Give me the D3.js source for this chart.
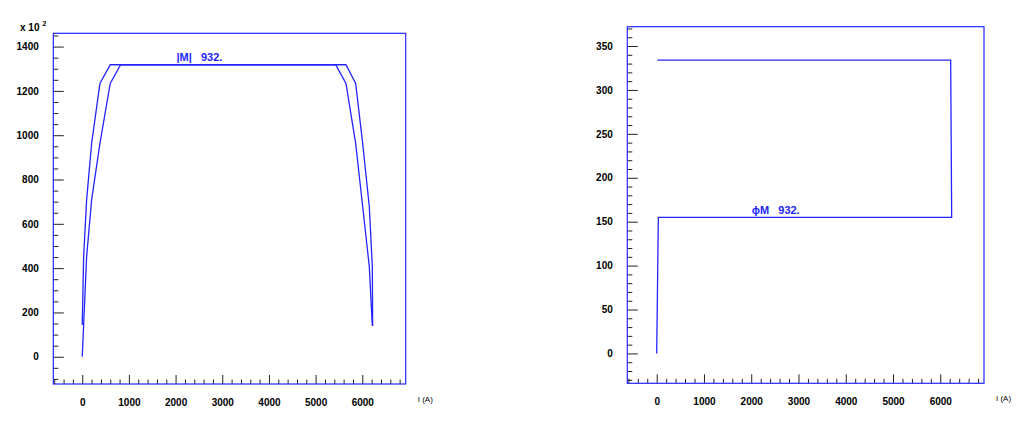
<!DOCTYPE html>
<html>
<head>
<meta charset="utf-8">
<script src="https://cdn.jsdelivr.net/npm/d3@7/dist/d3.min.js"></script>
<style>
body { margin: 0; background: #fff; }
text { font-family: "Liberation Sans", Arial, sans-serif; }
</style>
</head>
<body>
<svg id="chart" width="1025" height="425"></svg>
<script>
// |M| (x 10^2) versus current I (A), two traces
const magOuterI = [0, 30, 94, 201, 379, 600, 5650, 5858, 6008, 6150, 6215, 6222];
const magOuterM = [143, 452, 708, 963, 1234, 1318, 1318, 1234, 963, 678, 407, 139];
const magInnerI = [0, 30, 94, 201, 379, 600, 822, 5430, 5650, 5858, 6008, 6150, 6215];
const magInnerM = [0, 143, 452, 708, 963, 1234, 1318, 1318, 1234, 963, 678, 407, 139];

// phase of M versus current I (A)
const phaseI = [0, 35, 6241, 6220, 13];
const phaseM = [0, 155, 155, 334, 334];

const magLabel = '|M|   932.';
const phaseLabel = '\u03D5M   932.';

// tick values
const xMajor = d3.range(0, 6001, 1000);
const xMinor = d3.range(-600, 6801, 200).filter(d => d % 1000 !== 0);
const magMajor = d3.range(0, 1401, 200);
const magMinor = d3.range(-100, 1451, 50).filter(d => d % 200 !== 0);
const phaseMajor = d3.range(0, 351, 50);
const phaseMinor = d3.range(-30, 371, 10).filter(d => d % 50 !== 0);

const blue = '#2424ff';
const svg = d3.select('#chart');

function drawPanel(p) {
    const x = d3.scaleLinear().domain(p.xDomain).range([p.left, p.right]);
    const y = d3.scaleLinear().domain(p.yDomain).range([p.bottom, p.top]);
    const g = svg.append('g');

    // minor ticks (no labels)
    g.append('g')
        .attr('transform', `translate(0,${p.bottom})`)
        .call(d3.axisBottom(x).tickValues(xMinor).tickSize(-4.5).tickFormat(''));
    g.append('g')
        .attr('transform', `translate(${p.left},0)`)
        .call(d3.axisLeft(y).tickValues(p.yMinor).tickSize(-5).tickFormat(''));

    // major ticks with labels
    g.append('g')
        .attr('class', 'lab')
        .attr('transform', `translate(0,${p.bottom})`)
        .call(d3.axisBottom(x).tickValues(xMajor).tickSize(-9).tickPadding(15).tickFormat(d3.format('d')));
    g.append('g')
        .attr('class', 'lab')
        .attr('transform', `translate(${p.left},0)`)
        .call(d3.axisLeft(y).tickValues(p.yMajor).tickSize(-10.5).tickPadding(14.5).tickFormat(d3.format('d')));

    g.selectAll('.domain').remove();
    g.selectAll('.tick line').attr('stroke', '#222').attr('stroke-width', 1);
    g.selectAll('.lab text')
        .attr('fill', '#000')
        .style('font-size', '10px')
        .style('font-weight', 'bold');

    // frame
    g.append('rect')
        .attr('x', p.left).attr('y', p.top)
        .attr('width', p.right - p.left).attr('height', p.bottom - p.top)
        .attr('fill', 'none').attr('stroke', blue).attr('stroke-width', 1.2);

    // traces
    const line = d3.line().x(d => x(d[0])).y(d => y(d[1]));
    p.traces.forEach(([xs, ys]) => {
        g.append('path')
            .datum(xs.map((v, i) => [v, ys[i]]))
            .attr('d', line)
            .attr('fill', 'none')
            .attr('stroke', blue)
            .attr('stroke-width', 1.3)
            .attr('stroke-linejoin', 'miter');
    });

    // in-plot label
    g.append('text')
        .attr('x', x(p.label[0]))
        .attr('y', y(p.label[1]) - 3.5)
        .attr('fill', blue)
        .style('font-size', '11px')
        .style('font-weight', 'bold')
        .style('white-space', 'pre')
        .text(p.label[2]);

    // axis title
    g.append('text')
        .attr('x', p.right + 12)
        .attr('y', p.bottom + 18)
        .attr('fill', '#000')
        .style('font-size', '8px')
        .text('I (A)');

    return { x, y };
}

drawPanel({
    left: 53.3, right: 405.7, top: 33.3, bottom: 384,
    xDomain: [-620, 6930], yDomain: [-123, 1460],
    yMajor: magMajor, yMinor: magMinor,
    traces: [[magOuterI, magOuterM], [magInnerI, magInnerM]],
    label: [2020, 1318, magLabel],
});

drawPanel({
    left: 627.3, right: 984, top: 26.7, bottom: 383.3,
    xDomain: [-622, 6925], yDomain: [-34, 372],
    yMajor: phaseMajor, yMinor: phaseMinor,
    traces: [[phaseI, phaseM]],
    label: [2010, 155, phaseLabel],
});

// exponent note on the left y axis
const expo = svg.append('text')
    .attr('x', 20).attr('y', 30.5)
    .attr('fill', '#000')
    .style('font-size', '10px')
    .style('font-weight', 'bold');
expo.append('tspan').text('x 10');
expo.append('tspan').attr('dx', 3).attr('dy', -5).style('font-size', '7px').text('2');
</script>
</body>
</html>
